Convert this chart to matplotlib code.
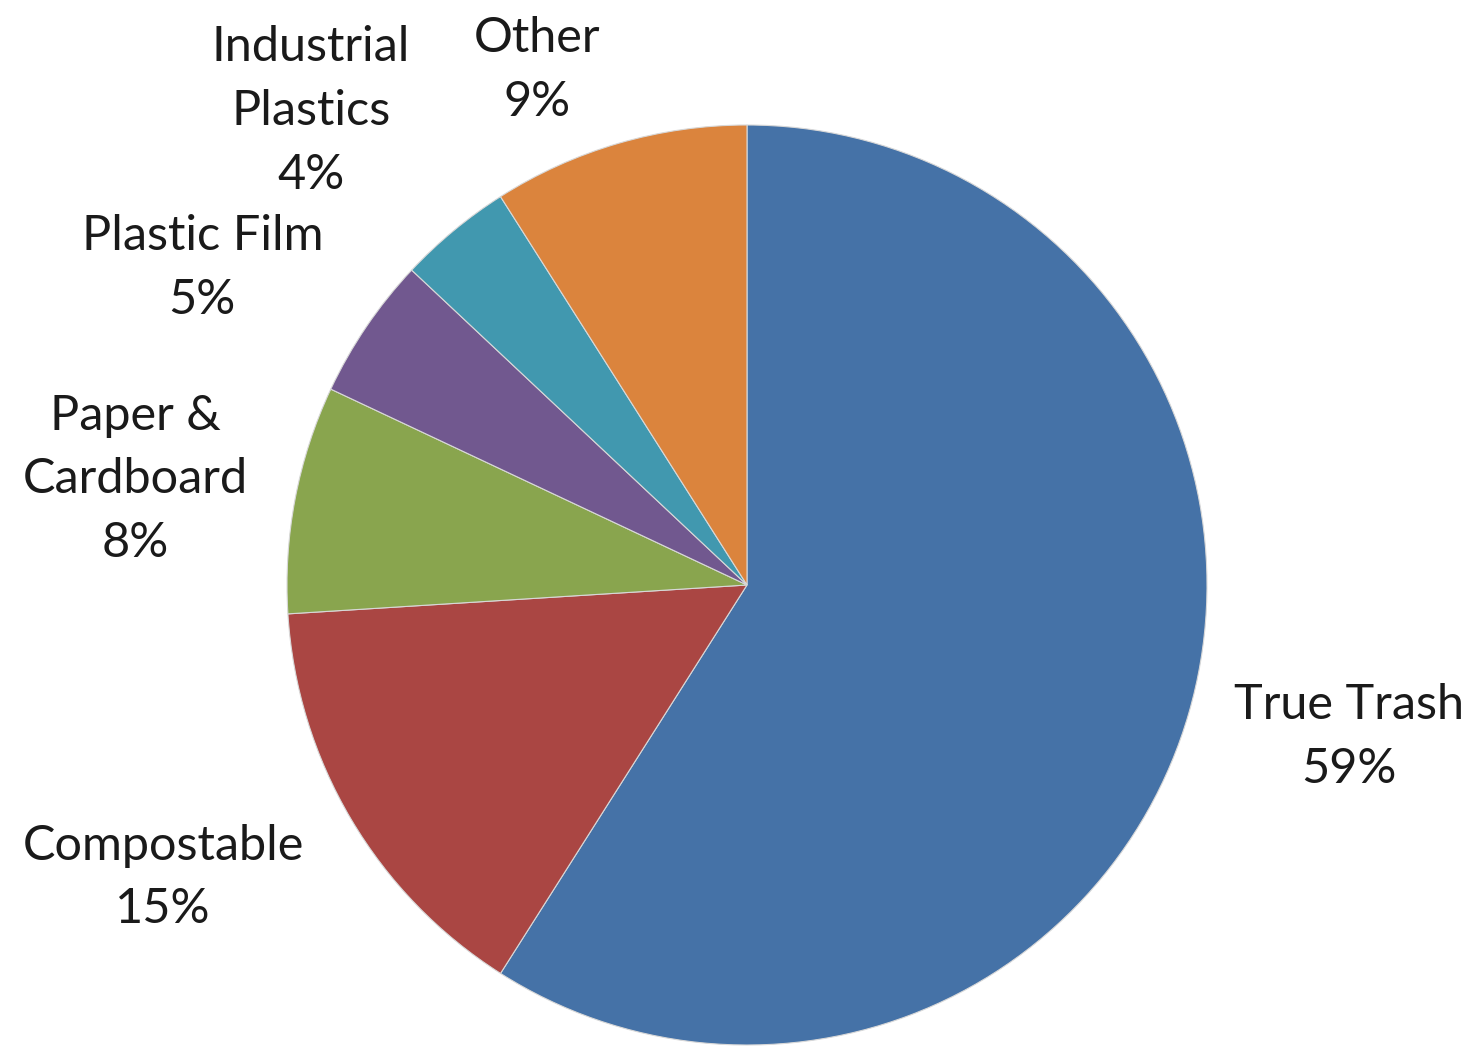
import numpy as np
import matplotlib.pyplot as plt

# Daten
labels = ["True Trash", "Compostable", "Paper &\nCardboard", "Plastic Film",
          "Industrial\nPlastics", "Other"]
shares = [59, 15, 8, 5, 4, 9]
colors = ["#4572A7", "#AA4643", "#89A54E", "#71588F", "#4198AF", "#DB843D"]
# Abstand der Beschriftung vom Mittelpunkt (in Radien)
label_dist = [1.35, 1.42, 1.35, 1.37, 1.40, 1.21]
# Winkelkorrektur der Beschriftung (Grad)
label_shift = [2, -4, 1, 4, 3, 6]

plt.rcParams['font.family'] = ['Lato', 'DejaVu Sans']

fig = plt.figure(figsize=(14.76, 10.46), dpi=100)
ax = fig.add_axes([0, 0, 1, 1])

wedges, _ = ax.pie(shares, colors=colors, startangle=90, counterclock=False,
                   radius=1.0, wedgeprops=dict(linewidth=0.8, edgecolor="#d8d8d8"))

for w, lab, val, d, s in zip(wedges, labels, shares, label_dist, label_shift):
    ang = np.deg2rad((w.theta1 + w.theta2) / 2 + s)
    ax.text(d * np.cos(ang), d * np.sin(ang), f"{lab}\n{val}%",
            ha="center", va="center", fontsize=35, color="#1a1a1a",
            linespacing=1.55)

ax.set_xlim(-747 / 460, (1476 - 747) / 460)
ax.set_ylim((585 - 1046) / 460, 585 / 460)
ax.set_aspect("auto")
ax.axis("off")

fig.savefig("out.png", dpi=100)
